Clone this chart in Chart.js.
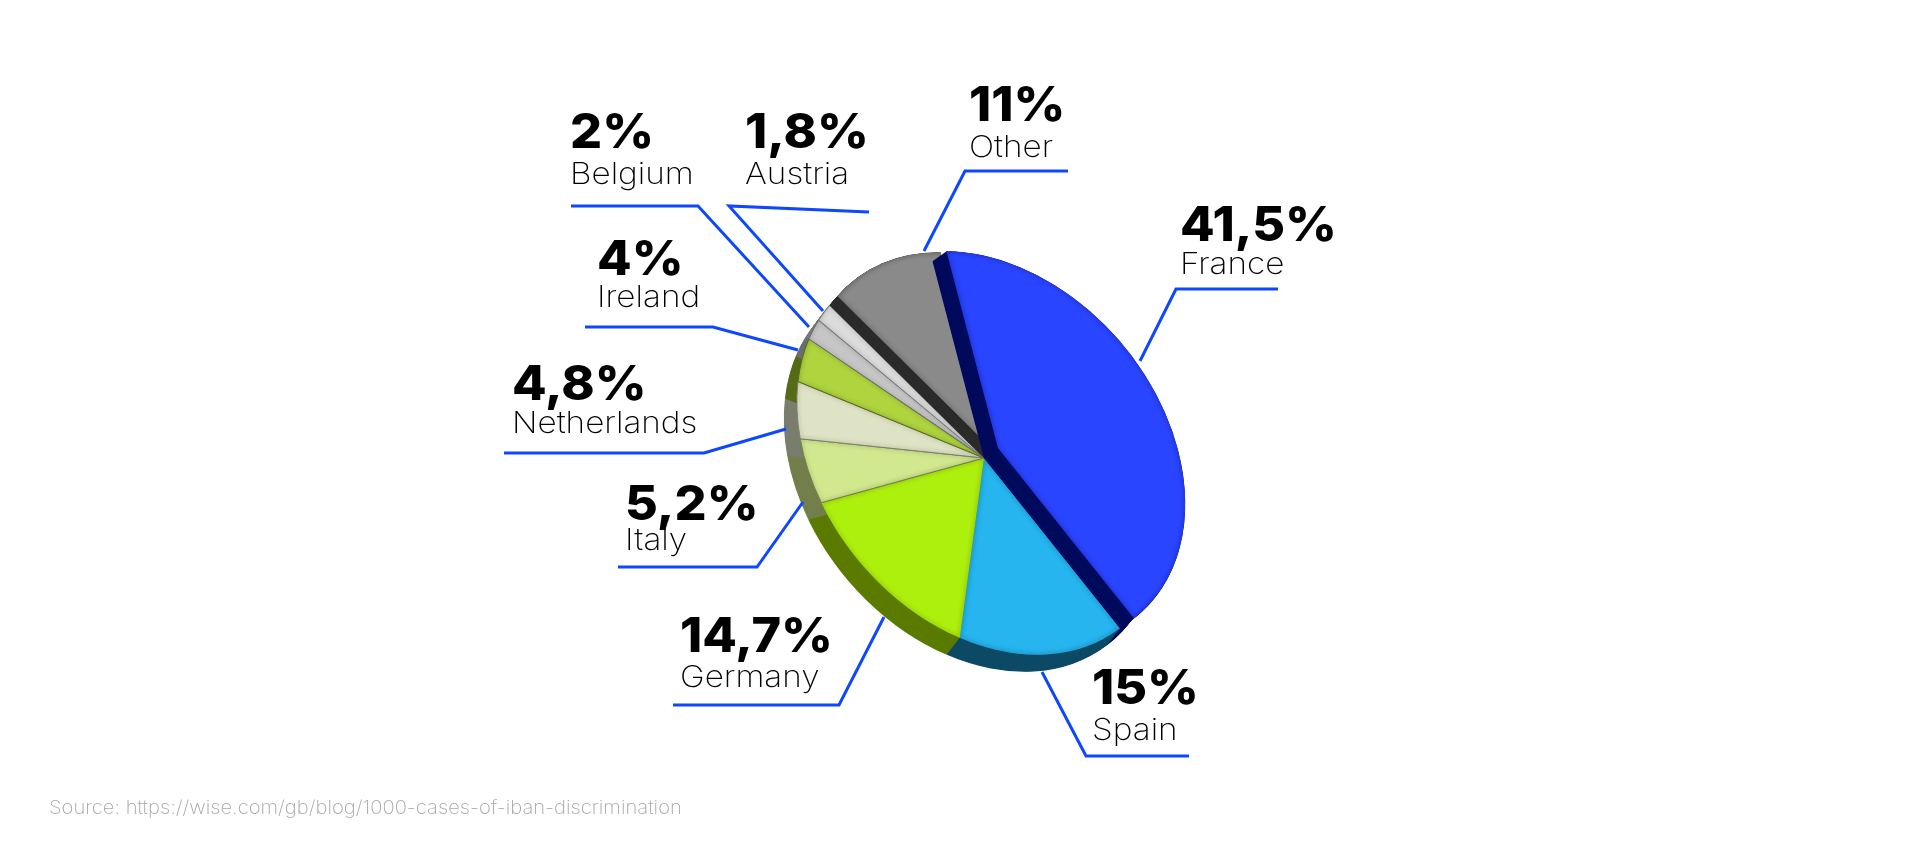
<!DOCTYPE html>
<html>
<head>
<meta charset="utf-8">
<title>IBAN discrimination</title>
<script src="https://cdn.jsdelivr.net/npm/chart.js@4"></script>
<style>
  html, body { margin: 0; padding: 0; background: #fff; }
  #pie { display: block; }
</style>
</head>
<body>
<canvas id="pie" width="1920" height="855"></canvas>
<script>
const countries = ['France', 'Spain', 'Germany', 'Italy', 'Netherlands', 'Ireland', 'Belgium', 'Austria', 'Other'];
const shares = [41.5, 15, 14.7, 5.2, 4.8, 4, 2, 1.8, 11];
const sourceNote = 'Source: https://wise.com/gb/blog/1000-cases-of-iban-discrimination';

const faceColors = ['#2a45ff', '#26b5ef', '#aef00d', '#d2e88e', '#dfe3c5', '#afd43e', '#c6c6c6', '#dcdcdc', '#8a8a8a'];
const wallColors = ['#000a5c', '#0d4a66', '#5a7a00', '#737f4c', '#7a7e6e', '#566b1a', '#6d6d6d', '#777777', '#2a2a2a'];
const edgeWidths = [0, 0, 0, 0.5, 0.5, 0.5, 0.5, 0.5, 0];
// how far each slice stands above the others
const lifts = [[14, -10], [0, 0], [0, 0], [0, 0], [0, 0], [0, 0], [0, 0], [0, 0], [8, -9]];

// text x, value baseline, name baseline, leader line
const callouts = [
  [1180, 241, 274, [[1278, 289], [1176, 289], [1140, 361]]],
  [1092, 704, 740, [[1189, 756], [1086, 756], [1042, 672]]],
  [680, 652, 687, [[673, 705], [839, 705], [884, 617]]],
  [625, 520, 550, [[618, 567], [757, 567], [803, 502]]],
  [512, 400, 433, [[504, 453], [704, 453], [786, 429]]],
  [597, 275, 307, [[585, 327], [713, 327], [798, 350]]],
  [570, 148, 184, [[571, 206], [698, 206], [809, 327]]],
  [745, 148, 184, [[869, 212], [729, 206], [823, 311]]],
  [969, 121, 157, [[1068, 171], [965, 171], [924, 251]]]
];

const center = [984, 458];
const tilt = 50 * Math.PI / 180;
const stretch = [2.18, 1.62];
const depth = [-13, 17];

function wedge(ctx, arc) {
  ctx.beginPath();
  ctx.moveTo(arc.x, arc.y);
  ctx.arc(arc.x, arc.y, arc.outerRadius, arc.startAngle, arc.endAngle);
  ctx.closePath();
}

// puts the library's round pie on the tilted ellipse, moved by dx, dy
function tiltPie(ctx, arc, dx, dy) {
  ctx.translate(center[0] + dx, center[1] + dy);
  ctx.rotate(tilt);
  ctx.scale(stretch[0], stretch[1]);
  ctx.translate(-arc.x, -arc.y);
}

function drawWall(ctx, arc, color, from, to) {
  const steps = 30;
  ctx.fillStyle = color;
  for (let s = 0; s <= steps; s++) {
    const dx = from[0] + (to[0] - from[0]) * s / steps;
    const dy = from[1] + (to[1] - from[1]) * s / steps;
    ctx.save();
    tiltPie(ctx, arc, dx, dy);
    wedge(ctx, arc);
    ctx.fill();
    ctx.restore();
  }
}

function drawFace(ctx, arc, i) {
  ctx.save();
  tiltPie(ctx, arc, lifts[i][0], lifts[i][1]);
  arc.draw(ctx);
  // soft dark rim inside the slice
  wedge(ctx, arc);
  ctx.clip();
  ctx.filter = 'blur(2px)';
  ctx.globalAlpha = 0.4;
  ctx.strokeStyle = wallColors[i];
  ctx.lineWidth = 1.4;
  wedge(ctx, arc);
  ctx.stroke();
  ctx.restore();
}

const pie3d = {
  id: 'pie3d',
  beforeDatasetDraw(chart) {
    const ctx = chart.ctx;
    const arcs = chart.getDatasetMeta(0).data;
    arcs.forEach((arc, i) => drawWall(ctx, arc, wallColors[i], depth, [0, 0]));
    arcs.forEach((arc, i) => { if (!lifts[i][0]) drawFace(ctx, arc, i); });
    [8, 0].forEach(i => {
      drawWall(ctx, arcs[i], wallColors[i], [0, 0], lifts[i]);
      drawFace(ctx, arcs[i], i);
    });
    return false;
  }
};

const callout = {
  id: 'callout',
  afterDraw(chart) {
    const ctx = chart.ctx;
    ctx.save();
    ctx.textAlign = 'left';
    ctx.textBaseline = 'alphabetic';
    ctx.strokeStyle = '#0d47ff';
    ctx.lineWidth = 3;
    ctx.lineJoin = 'miter';
    callouts.forEach((c, i) => {
      ctx.beginPath();
      c[3].forEach((p, k) => k ? ctx.lineTo(p[0], p[1]) : ctx.moveTo(p[0], p[1]));
      ctx.stroke();

      ctx.fillStyle = '#000';
      ctx.font = '800 48px Inter';
      ctx.save();
      ctx.translate(c[0], c[1]);
      ctx.scale(1.05, 1);
      ctx.fillText(String(shares[i]).replace('.', ',') + '%', 0, 0);
      ctx.restore();

      ctx.fillStyle = '#000';
      ctx.font = '200 30px Inter';
      ctx.save();
      ctx.translate(c[0], c[2]);
      ctx.scale(1.11, 1);
      ctx.fillText(countries[i], 0, 0);
      ctx.restore();
    });
    ctx.fillStyle = '#a8a8a8';
    ctx.font = '200 19px Inter';
    ctx.save();
    ctx.translate(49, 814);
    ctx.scale(1.063, 1);
    ctx.fillText(sourceNote, 0, 0);
    ctx.restore();
    ctx.restore();
  }
};

new Chart(document.getElementById('pie'), {
  type: 'pie',
  data: {
    labels: countries,
    datasets: [{
      data: shares,
      backgroundColor: faceColors,
      borderColor: wallColors,
      borderWidth: edgeWidths,
      radius: 100
    }]
  },
  options: {
    responsive: false,
    animation: false,
    rotation: 302.5,
    plugins: {
      legend: { display: false },
      tooltip: { enabled: false }
    }
  },
  plugins: [pie3d, callout]
});
</script>
</body>
</html>
